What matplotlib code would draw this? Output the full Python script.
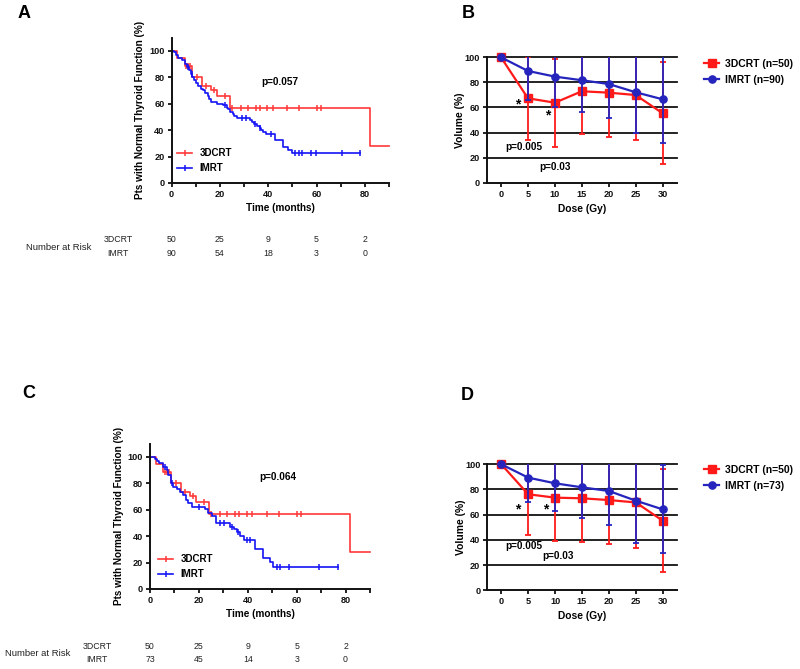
import matplotlib
matplotlib.use('Agg')
import matplotlib.pyplot as plt
import numpy as np
from matplotlib.lines import Line2D
from matplotlib.transforms import blended_transform_factory

plt.rcParams['font.family'] = ['Liberation Sans', 'DejaVu Sans']
plt.rcParams['font.weight'] = 'bold'
plt.rcParams['axes.labelweight'] = 'bold'

# ---------------- data ----------------
risk_times = [0, 20, 40, 60, 80]
risk_groups = ['3DCRT', 'IMRT']
riskA_crt = [50, 25, 9, 5, 2]
riskA_imrt = [90, 54, 18, 3, 0]
riskC_crt = [50, 25, 9, 5, 2]
riskC_imrt = [73, 45, 14, 3, 0]

# 3DCRT Kaplan-Meier (same cohort in A and C)
crt_t = [0, 2.4, 5.4, 8.6, 12.7, 16.5, 18.9, 24.0, 82.0]
crt_s = [100, 94.3, 88.4, 79.8, 73.0, 70.4, 65.8, 56.4, 28.2]
crt_end = 90
crt_cens = [6.0, 6.8, 7.6, 10.5, 14.3, 17.5, 22.2, 25.1, 28.8, 31.5, 34.8,
            36.6, 39.6, 41.9, 47.7, 52.9, 60.0, 61.7]

# IMRT Kaplan-Meier, panel A (n=90)
imA_t = [0, 1.0, 1.8, 2.5, 4.5, 5.5, 6.5, 7.2, 8.0, 8.6, 9.3, 10.0, 11.0,
         12.0, 13.0, 14.0, 15.0, 15.6, 16.5, 19.0, 21.5, 23.0, 23.5, 24.3,
         25.5, 26.0, 27.0, 32.5, 33.5, 34.0, 35.5, 36.5, 37.0, 38.0, 39.0,
         42.8, 46.3, 48.3, 49.7]
imA_s = [100, 98.9, 96.7, 94.5, 92.9, 90.2, 87.8, 85.5, 82.2, 80.0, 77.8,
         75.5, 73.3, 71.1, 70.0, 67.8, 65.6, 63.3, 61.1, 60.0, 58.9, 56.7,
         55.6, 53.3, 52.2, 50.8, 48.9, 47.5, 46.2, 44.8, 43.4, 41.9, 40.2,
         38.5, 36.8, 32.5, 27.4, 25.0, 22.4]
imA_end = 78
imA_cens = [6.8, 8.3, 22.2, 29.0, 31.0, 34.5, 36.6, 41.0, 51.3, 52.6, 54.0,
            57.8, 59.9, 70.4, 78.0]

# IMRT Kaplan-Meier, panel C (n=73)
imC_t = [0, 2.0, 2.7, 3.8, 5.2, 6.8, 7.5, 8.5, 9.6, 10.9, 12.3, 13.7, 14.8,
         15.7, 17.1, 22.5, 23.9, 25.3, 27.0, 32.8, 34.2, 35.5, 36.9, 38.3,
         43.0, 46.4, 48.9, 50.3]
imC_s = [100, 98.3, 97.0, 95.0, 92.5, 89.9, 86.2, 80.3, 76.9, 75.4, 73.5,
         71.0, 67.3, 64.8, 62.2, 60.2, 57.2, 55.2, 49.6, 47.1, 45.4, 43.3,
         40.1, 37.0, 30.0, 23.7, 20.2, 16.6]
imC_end = 76.8
imC_cens = [6.0, 9.2, 20.0, 28.5, 30.2, 33.6, 36.2, 39.5, 41.0, 51.9, 53.3,
            56.7, 69.3, 76.8]

# Dose-volume data
dose = [0, 5, 10, 15, 20, 25, 30]
B_crt_mean = [100, 67.3, 63.8, 72.9, 71.8, 69.9, 55.3]
B_crt_sd = [0, 33.2, 35.1, 34.3, 35.1, 35.9, 40.6]
B_imrt_mean = [100, 89.1, 84.6, 81.7, 78.7, 72.1, 66.5]
B_imrt_sd = [0, 23.0, 24.0, 25.1, 27.4, 32.2, 35.1]
D_crt_mean = [100, 76.2, 73.5, 73.0, 71.6, 69.7, 55.2]
D_crt_sd = [0, 32.4, 34.4, 35.0, 35.1, 36.2, 40.7]
D_imrt_mean = [100, 89.4, 84.9, 81.7, 78.8, 71.1, 64.2]
D_imrt_sd = [0, 19.1, 22.0, 24.1, 27.0, 33.4, 34.9]

# ---------------- figure ----------------
W, H = 800, 669
fig = plt.figure(figsize=(W / 100, H / 100), dpi=100)


def ax_px(l, t, r, b):
    return fig.add_axes([l / W, 1 - b / H, (r - l) / W, (b - t) / H])


def fx(x):
    return x / W


def fy(y):
    return 1 - y / H


KM_RED = '#FF3838'
KM_BLUE = '#1414F5'
DV_RED = '#FF1A1A'
DV_BLUE = '#2525BE'


def surv_at(ts, ss, t):
    i = np.searchsorted(ts, t, side='right') - 1
    return ss[i]


def style_axes(ax):
    for s in ['top', 'right']:
        ax.spines[s].set_visible(False)
    for s in ['left', 'bottom']:
        ax.spines[s].set_linewidth(1.4)
        ax.spines[s].set_color('#111111')
    ax.tick_params(direction='out', length=3.2, width=1.3, labelsize=6.6,
                   pad=1.8, colors='#111111')


def km_panel(ax, im_t, im_s, im_end, im_cens, pval, p_xy, leg_anchor,
             ylab_x, xlab_y):
    style_axes(ax)
    for ts, ss, end, cens, col, lab in [
            (crt_t, crt_s, crt_end, crt_cens, KM_RED, '3DCRT'),
            (im_t, im_s, im_end, im_cens, KM_BLUE, 'IMRT')]:
        ax.step(list(ts) + [end], list(ss) + [ss[-1]], where='post',
                color=col, lw=1.2, clip_on=False)
        cy = [surv_at(ts, ss, c) for c in cens]
        ax.plot(cens, cy, ls='none', marker='|', ms=4.5, mew=1.1, color=col,
                clip_on=False)
    ax.set_xlim(0, 90)
    ax.set_ylim(0, 110)
    ax.set_xticks(np.arange(0, 91, 10))
    ax.set_xticklabels([str(v) if v % 20 == 0 and v < 90 else ''
                        for v in range(0, 91, 10)])
    ax.set_yticks(np.arange(0, 101, 20))
    ax.set_xlabel('Time (months)', fontsize=7.2)
    ax.set_ylabel('Pts with Normal Thyroid Function (%)', fontsize=7.2)
    ax.yaxis.set_label_coords(ylab_x, 0.5)
    ax.xaxis.set_label_coords(0.5, xlab_y)
    ax.text(p_xy[0], p_xy[1], pval, fontsize=7.2, ha='center', va='center')
    handles = [Line2D([], [], color=KM_RED, lw=1.2, marker='|', ms=4.5,
                      mew=1.1),
               Line2D([], [], color=KM_BLUE, lw=1.2, marker='|', ms=4.5,
                      mew=1.1)]
    ax.legend(handles, ['3DCRT', 'IMRT'], loc='upper left',
              bbox_to_anchor=leg_anchor, bbox_transform=fig.transFigure,
              frameon=False, borderpad=0, borderaxespad=0, numpoints=1,
              handlelength=1.55, handletextpad=0.75, labelspacing=0.55,
              fontsize=7.0)


def risk_table(ax, rows, y_rows, label_x, nar_x):
    tr = blended_transform_factory(ax.transData, fig.transFigure)
    for vals, yy, g in zip(rows, y_rows, risk_groups):
        fig.text(fx(label_x), fy(yy), g, fontsize=6.3, fontweight='normal',
                 ha='center', va='center', color='#222222')
        for t, v in zip(risk_times, vals):
            ax.text(t, fy(yy), str(v), transform=tr, fontsize=6.3,
                    fontweight='normal', ha='center', va='center',
                    color='#222222', clip_on=False)
    fig.text(fx(nar_x), fy((y_rows[0] + y_rows[1]) / 2), 'Number at Risk',
             fontsize=6.8, fontweight='normal', ha='center', va='center',
             color='#222222')


def dv_panel(ax, crt_m, crt_sd, im_m, im_sd, n_imrt, stars, ptexts,
             leg_anchor, ylab_x, xlab_y):
    style_axes(ax)
    ax.set_xlim(-2.6, 32.6)
    ax.set_ylim(0, 100)
    ax.set_yticks(np.arange(0, 101, 20))
    ax.set_xticks(dose)
    for yv in range(20, 101, 20):
        ax.axhline(yv, color='#111111', lw=1.3, zorder=1, clip_on=False)
    for m, sd, col, mk, z in [(crt_m, crt_sd, DV_RED, 's', 3),
                              (im_m, im_sd, DV_BLUE, 'o', 4)]:
        ax.errorbar(dose, m, yerr=sd, fmt='none', ecolor=col,
                    elinewidth=1.3, capsize=2.2, capthick=1.3, zorder=z)
        ax.plot(dose, m, color=col, lw=1.6, marker=mk, ms=5.2, zorder=z + 0.5,
                clip_on=False)
    for (sx, sy) in stars:
        ax.text(sx, sy, '*', fontsize=10, ha='center', va='center')
    for (tx, ty, tt) in ptexts:
        ax.text(tx, ty, tt, fontsize=7.2, ha='center', va='center')
    ax.set_xlabel('Dose (Gy)', fontsize=7.4)
    ax.set_ylabel('Volume (%)', fontsize=7.4)
    ax.yaxis.set_label_coords(ylab_x, 0.5)
    ax.xaxis.set_label_coords(0.5, xlab_y)
    handles = [Line2D([], [], color=DV_RED, lw=1.6, marker='s', ms=5.2),
               Line2D([], [], color=DV_BLUE, lw=1.6, marker='o', ms=5.2)]
    ax.legend(handles, ['3DCRT (n=50)', 'IMRT (n=%d)' % n_imrt],
              loc='upper left', bbox_to_anchor=leg_anchor,
              bbox_transform=fig.transFigure, frameon=False, borderpad=0,
              borderaxespad=0, numpoints=1, handlelength=1.45,
              handletextpad=0.6, labelspacing=0.55, fontsize=7.5)


# Panel A
axA = ax_px(171.5, 37.5, 389, 183)
km_panel(axA, imA_t, imA_s, imA_end, imA_cens, 'p=0.057', (45, 76.6),
         (fx(177), fy(148)), -0.122, -0.135)
risk_table(axA, [riskA_crt, riskA_imrt], [240, 254], 118, 59)

# Panel C
axC = ax_px(150, 443.5, 370, 589)
km_panel(axC, imC_t, imC_s, imC_end, imC_cens, 'p=0.064', (52.5, 84.5),
         (fx(158), fy(554)), -0.12, -0.14)
risk_table(axC, [riskC_crt, riskC_imrt], [646.7, 660], 97, 37.5)

# Panel B
axB = ax_px(487, 57.3, 676.7, 182.7)
dv_panel(axB, B_crt_mean, B_crt_sd, B_imrt_mean, B_imrt_sd, 90,
         [(3.1, 62.5), (8.7, 54.0)],
         [(4.3, 28.2, 'p=0.005'), (10.0, 12.8, 'p=0.03')],
         (fx(704), fy(59)), -0.115, -0.17)

# Panel D
axD = ax_px(487.3, 464.3, 676.7, 590.2)
dv_panel(axD, D_crt_mean, D_crt_sd, D_imrt_mean, D_imrt_sd, 73,
         [(3.0, 64.5), (8.3, 64.5)],
         [(4.1, 35.1, 'p=0.005'), (10.6, 27.1, 'p=0.03')],
         (fx(704), fy(465)), -0.115, -0.165)

# Panel letters
for lab, x, y in [('A', 24, 14), ('B', 468, 14), ('C', 29, 393), ('D', 467, 395)]:
    fig.text(fx(x), fy(y), lab, fontsize=13, fontweight='bold', ha='center',
             va='center')

fig.savefig('out.png', dpi=100, facecolor='white')
